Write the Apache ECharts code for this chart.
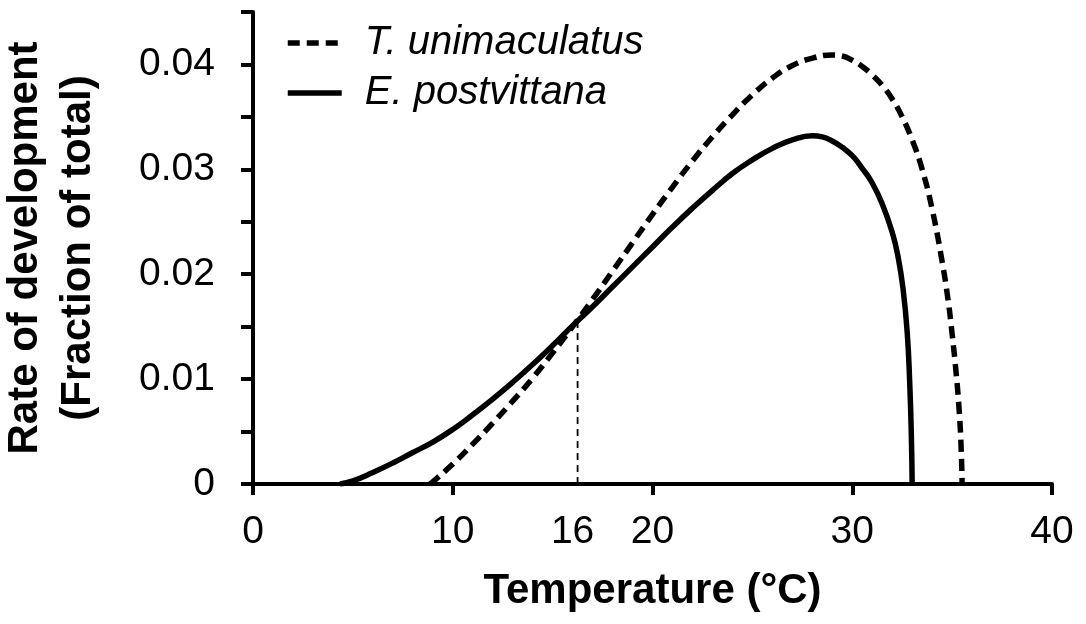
<!DOCTYPE html>
<html>
<head>
<meta charset="utf-8">
<title>Rate of development vs temperature</title>
<script src="https://cdn.jsdelivr.net/npm/echarts@6/dist/echarts.min.js"></script>
<style>
  html, body { margin: 0; padding: 0; background: #fff; }
  #chart { width: 1086px; height: 624px; }
</style>
</head>
<body>
<div id="chart"></div>
<script>
// Development rate curves (fraction of total development per day) by temperature (°C)
const seriesNames = ['T. unimaculatus', 'E. postvittana'];

// T. unimaculatus: [temperature, rate]
const unimaculatusRate = [
  [8.85, 0], [9, 0.0002], [10, 0.0019], [11, 0.0038], [12, 0.0058], [13, 0.0079],
  [14, 0.0101], [15, 0.0125], [16, 0.0150], [17, 0.0176], [18, 0.0203], [19, 0.0230],
  [20, 0.0257], [21, 0.0283], [22, 0.0308], [23, 0.0331], [24, 0.0352], [25, 0.0371],
  [26, 0.0387], [27, 0.0399], [28, 0.0406], [29, 0.0409], [29.5, 0.0408], [30, 0.0404],
  [30.5, 0.0398], [31, 0.0390], [31.5, 0.0380], [32, 0.0367], [32.5, 0.0350],
  [33, 0.0328], [33.5, 0.0300], [34, 0.0262], [34.5, 0.0212], [34.8, 0.0175],
  [35, 0.0143], [35.2, 0.0106], [35.35, 0.0071], [35.45, 0.0035], [35.5, 0]
];

// E. postvittana: [temperature, rate]
const postvittanaRate = [
  [4.35, 0], [5, 0.0003], [6, 0.0011], [7, 0.0020], [8, 0.0030], [9, 0.0040],
  [10, 0.0052], [11, 0.0066], [12, 0.0081], [13, 0.0097], [14, 0.0114], [15, 0.0132],
  [16, 0.0151], [17, 0.0169], [18, 0.0188], [19, 0.0207], [20, 0.0226], [21, 0.0245],
  [22, 0.0263], [23, 0.0280], [24, 0.0296], [25, 0.0309], [26, 0.0320], [27, 0.0328],
  [28, 0.0332], [28.5, 0.0331], [29, 0.0327], [29.5, 0.0321], [30, 0.0313],
  [30.5, 0.0301], [31, 0.0287], [31.5, 0.0267], [32, 0.0240], [32.3, 0.0216],
  [32.55, 0.0185], [32.75, 0.0145], [32.88, 0.0095], [32.96, 0.0045], [33, 0]
];

// Temperature where the two curves cross, marked by a thin vertical line
const crossingTemp = 16.25;
const crossingRate = 0.0156;
const crossingLine = [[crossingTemp, 0], [crossingTemp, crossingRate]];

// Axis ticks and labels
const xTickValues = [0, 10, 20, 30, 40];
const xLabelValues = [0, 10, 16, 20, 30, 40];
const yTickValues = [0, 0.005, 0.01, 0.015, 0.02, 0.025, 0.03, 0.035, 0.04, 0.045];
const yLabelValues = [0, 0.01, 0.02, 0.03, 0.04];

const FONT = '"Liberation Sans", Arial, sans-serif';
const axisColor = '#000';
const dashPattern = [12, 7];

const chart = echarts.init(document.getElementById('chart'), null, { renderer: 'canvas' });

chart.setOption({
  animation: false,
  backgroundColor: '#fff',
  grid: {
    left: 253, right: 34, top: 12, bottom: 140,
    containLabel: false,
    outerBoundsMode: 'none'
  },
  legend: {
    data: seriesNames,
    orient: 'vertical',
    left: 285,
    top: 23,
    padding: 0,
    itemWidth: 54,
    itemHeight: 14,
    itemGap: 10,
    itemStyle: { opacity: 0 },
    lineStyle: { width: 5.5 },
    textStyle: {
      fontFamily: FONT,
      fontStyle: 'italic',
      fontSize: 40,
      color: '#000',
      padding: [0, 0, 0, 18]
    }
  },
  xAxis: {
    type: 'value',
    min: 0,
    max: 40,
    interval: 10,
    name: 'Temperature (°C)',
    nameLocation: 'middle',
    nameGap: 86,
    nameTextStyle: { fontFamily: FONT, fontWeight: 'bold', fontSize: 42, color: '#000' },
    splitLine: { show: false },
    axisLine: { show: true, onZero: false, lineStyle: { color: axisColor, width: 4 } },
    axisTick: {
      show: true, inside: false, length: 11,
      customValues: xTickValues,
      lineStyle: { color: axisColor, width: 4 }
    },
    axisLabel: {
      customValues: xLabelValues,
      margin: 29,
      fontFamily: FONT, fontSize: 39, color: '#000'
    }
  },
  yAxis: {
    type: 'value',
    min: 0,
    max: 0.045,
    interval: 0.005,
    name: 'Rate of development\n(Fraction of total)',
    nameLocation: 'middle',
    nameRotate: 90,
    nameGap: 148,
    nameTextStyle: {
      fontFamily: FONT, fontWeight: 'bold', fontSize: 42, lineHeight: 53, color: '#000'
    },
    splitLine: { show: false },
    axisLine: { show: true, lineStyle: { color: axisColor, width: 4 } },
    axisTick: {
      show: true, inside: false, length: 12,
      customValues: yTickValues,
      lineStyle: { color: axisColor, width: 4 }
    },
    axisLabel: {
      customValues: yLabelValues,
      margin: 38,
      fontFamily: FONT, fontSize: 39, color: '#000',
      formatter: v => (v === 0 ? '0' : v.toFixed(2))
    }
  },
  series: [
    {
      name: seriesNames[0],
      type: 'line',
      data: unimaculatusRate,
      symbol: 'none',
      smooth: true,
      lineStyle: { color: '#000', width: 5.5, type: dashPattern, cap: 'butt' },
      itemStyle: { color: '#000' },
      z: 3
    },
    {
      name: seriesNames[1],
      type: 'line',
      data: postvittanaRate,
      symbol: 'none',
      smooth: true,
      lineStyle: { color: '#000', width: 5.5, type: 'solid' },
      itemStyle: { color: '#000' },
      z: 3
    },
    {
      name: 'crossing',
      type: 'line',
      data: crossingLine,
      symbol: 'none',
      silent: true,
      lineStyle: { color: '#000', width: 1.8, type: [7, 5] },
      z: 2
    }
  ]
});
</script>
</body>
</html>
